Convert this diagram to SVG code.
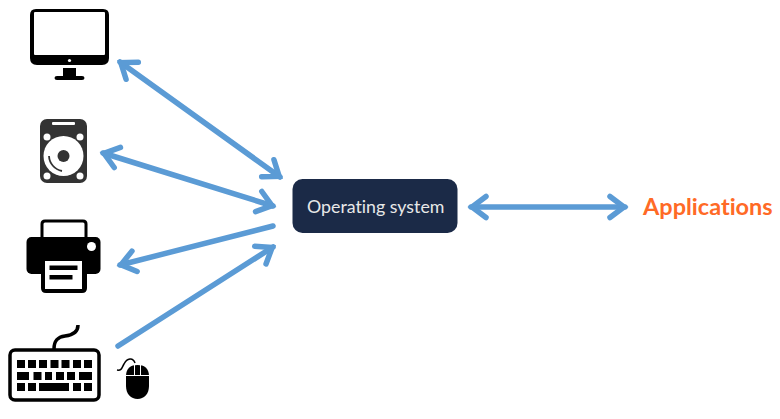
<svg xmlns="http://www.w3.org/2000/svg" width="780" height="419" viewBox="0 0 780 419">
<defs>
<style>
.a{fill:none;stroke:#5b9bd5;stroke-width:5.500;stroke-linecap:round;stroke-linejoin:round}
.k{fill:#000}
.w{fill:#fff}
text{font-variant-ligatures:none}
</style>
<marker id="h" markerUnits="userSpaceOnUse" markerWidth="30" markerHeight="30" refX="25" refY="15" orient="auto-start-reverse" viewBox="0 0 30 30" overflow="visible">
<path d="M10 4.500L24 15L10 25.500" fill="none" stroke="#5b9bd5" stroke-width="5.500" stroke-linecap="round" stroke-linejoin="miter"/>
</marker>
</defs>
<rect width="780" height="419" fill="#fff"/>
<g id="connectors">
<path class="a" d="M120 62L280 177" marker-start="url(#h)" marker-end="url(#h)"/>
<path class="a" d="M103 153L273 206" marker-start="url(#h)" marker-end="url(#h)"/>
<path class="a" d="M273 226L120 265" marker-end="url(#h)"/>
<path class="a" d="M118 346L273 247" marker-end="url(#h)"/>
<path class="a" d="M471 207L625 207" marker-start="url(#h)" marker-end="url(#h)"/>
</g>
<g id="monitor">
<path class="k" d="M36 9H103Q109 9 109 15V58Q109 65 102 65H37Q30 65 30 58V15Q30 9 36 9Z"/>
<rect class="w" x="34" y="12" width="71" height="43" rx="1"/>
<circle class="w" cx="69.500" cy="60.500" r="1.600"/>
<path class="k" d="M63 68H76V76H82Q84.500 76 84.500 78Q84.500 80 82 80H57Q54.500 80 54.500 78Q54.500 76 57 76H63Z"/>
</g>
<g id="disk">
<rect x="40" y="119" width="47" height="64" rx="7" fill="#333"/>
<rect x="52" y="122" width="23" height="3" rx="1" fill="#fff"/>
<circle class="w" cx="47" cy="137" r="3.500"/><circle class="w" cx="80" cy="137" r="3.500"/>
<circle class="w" cx="47" cy="176" r="3.500"/><circle class="w" cx="80" cy="176" r="3.500"/>
<circle class="w" cx="63.500" cy="156" r="20"/>
<circle cx="63.500" cy="156" r="6" fill="#333"/>
<path d="M49 156A16 16 0 0 0 62 171" fill="none" stroke="#333" stroke-width="1.800"/>
</g>
<g id="printer">
<path d="M42 238V224Q42 221 45 221H83Q86 221 86 224V238" fill="none" stroke="#000" stroke-width="3"/>
<rect class="k" x="26.500" y="237" width="74" height="37" rx="5"/>
<circle class="w" cx="91.500" cy="246.500" r="4.500"/>
<path class="k" d="M41 258H87V288Q87 293 82 293H46Q41 293 41 288Z"/>
<rect class="w" x="45" y="261" width="37" height="28"/>
<rect class="k" x="49.500" y="265.500" width="28" height="4.500"/>
<rect class="k" x="49.500" y="275" width="23" height="4.500"/>
</g>
<g id="keyboard">
<path d="M54 349C54 340 58 337 65 336C73 335 78 332 78 325" fill="none" stroke="#000" stroke-width="3.500"/>
<rect x="10" y="350" width="89" height="50" rx="5" fill="#fff" stroke="#000" stroke-width="3.500"/>
<g class="k">
<rect x="17" y="360" width="8" height="8"/><rect x="28" y="360" width="8" height="8"/><rect x="39" y="360" width="8" height="8"/><rect x="50.500" y="360" width="8" height="8"/><rect x="61.500" y="360" width="8" height="8"/><rect x="73" y="360" width="8" height="8"/><rect x="84" y="360" width="8" height="8"/>
<rect x="17" y="372" width="12" height="8"/><rect x="33.500" y="372" width="8" height="8"/><rect x="45" y="372" width="7" height="8"/><rect x="56" y="372" width="8" height="8"/><rect x="67" y="372" width="8" height="8"/><rect x="79" y="372" width="13" height="8"/>
<rect x="17" y="383" width="8" height="8"/><rect x="28" y="383" width="8" height="8"/><rect x="39" y="383" width="30" height="8"/><rect x="73" y="383" width="8" height="8"/><rect x="84" y="383" width="8" height="8"/>
</g>
</g>
<g id="mouse">
<path d="M117 370C122 371 122 367 124 364C127 358 133 357 135 363" fill="none" stroke="#000" stroke-width="1.500"/>
<path class="k" d="M126 376C126 368 131 365 137.500 365C144 365 149 368 149 376V386C149 394 144 399 137.500 399C131 399 126 394 126 386Z"/>
<path d="M126 375.500H149M134.500 365V375.500M140.500 365V375.500" stroke="#fff" stroke-width="1" fill="none"/>
</g>
<g id="os">
<rect x="292.500" y="179" width="165" height="54" rx="10" fill="#1b2a47"/>
<text x="307" y="212.500" font-family="Lato, 'Open Sans', sans-serif" font-size="17.800" fill="#e8e8e8">Operating system</text>
</g>
<g id="applications">
<text x="643" y="215" font-family="Lato, 'Open Sans', sans-serif" font-size="23.500" font-weight="700" fill="#ff6a26">Applications</text>
</g>
</svg>
